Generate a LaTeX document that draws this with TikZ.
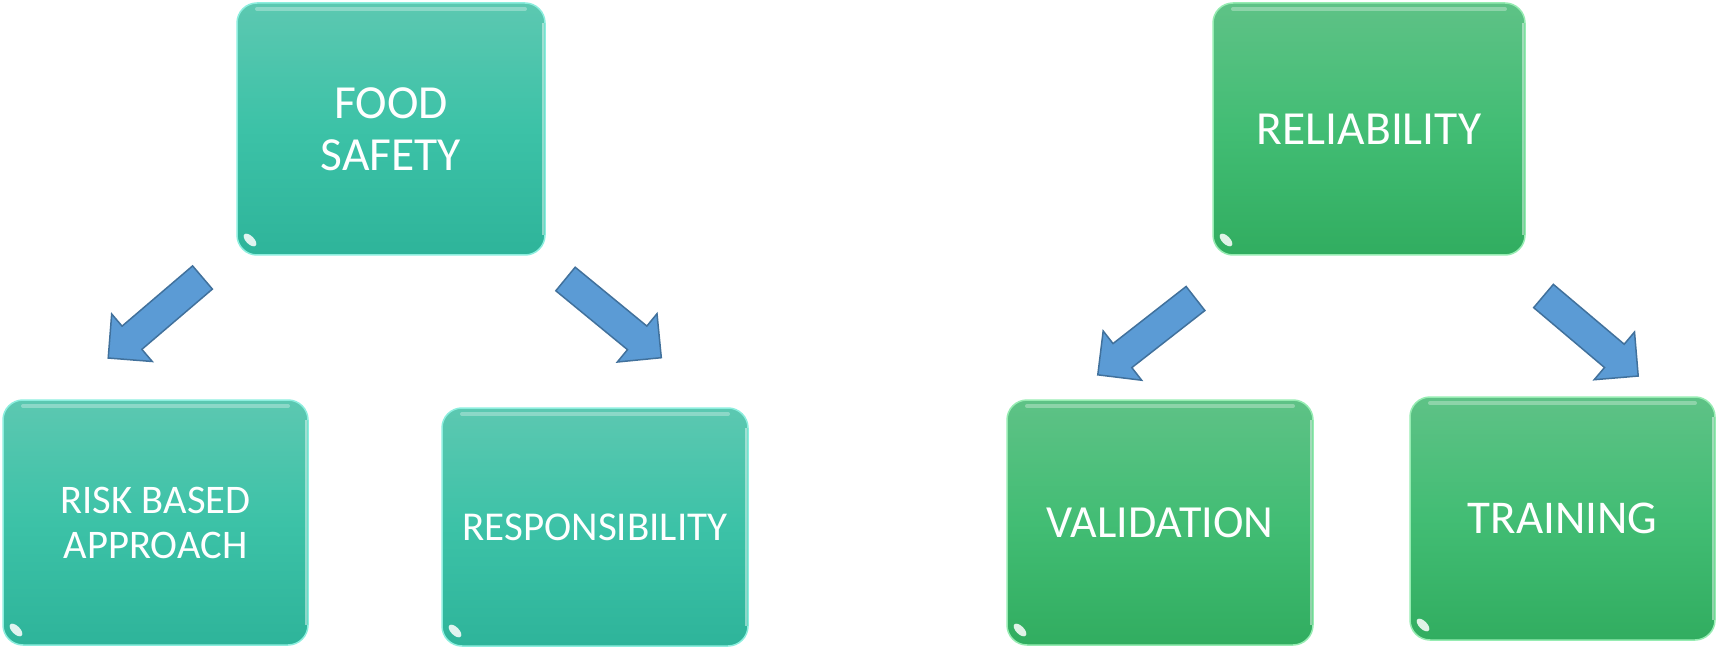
\documentclass[tikz,border=0pt]{standalone}
\usepackage{fontspec}
\setmainfont{Carlito}
\usetikzlibrary{shapes.arrows, positioning}

\definecolor{tealtop}{RGB}{92,200,177}
\definecolor{tealmid}{RGB}{60,194,167}
\definecolor{tealbot}{RGB}{46,180,154}
\definecolor{tealedge}{RGB}{140,238,222}
\definecolor{greentop}{RGB}{94,194,134}
\definecolor{greenmid}{RGB}{66,189,116}
\definecolor{greenbot}{RGB}{49,173,96}
\definecolor{greenedge}{RGB}{150,236,178}
\definecolor{arrowfill}{RGB}{91,155,213}
\definecolor{arrowline}{RGB}{65,113,156}

\begin{document}
\begin{tikzpicture}[x=1pt, y=-1pt,
  box/.style={rounded corners=20pt, text=white, align=center, inner sep=0pt, line width=1.5pt,
    path picture={
      \draw[white, opacity=.3, line width=4pt, line cap=round]
        ([shift={(20pt,-6pt)}]path picture bounding box.north west) -- ([shift={(-20pt,-6pt)}]path picture bounding box.north east);
      \draw[white, opacity=.45, line width=1.5pt]
        ([shift={(-2pt,-20pt)}]path picture bounding box.north east) -- ([shift={(-2pt,20pt)}]path picture bounding box.south east);
      \fill[white, opacity=.85]
        ([shift={(13pt,15pt)}]path picture bounding box.south west) ellipse [x radius=8pt, y radius=4pt, rotate=-45];
    }},
  tealbox/.style={box, draw=tealedge, top color=tealtop, bottom color=tealbot, middle color=tealmid},
  greenbox/.style={box, draw=greenedge, top color=greentop, bottom color=greenbot, middle color=greenmid},
  blockarrow/.style={single arrow, draw=arrowline, fill=arrowfill, line width=1.5pt, anchor=tail,
    outer sep=0pt, inner xsep=0pt, inner ysep=14.5pt, minimum height=124pt,
    single arrow head extend=16pt, single arrow tip angle=90}]

  \useasboundingbox (0,0) rectangle (1717,647);

  % left tree
  \node[tealbox, minimum width=308pt, minimum height=252pt, font=\fontsize{47.5pt}{52pt}\selectfont]
    (food) at (391,129) {FOOD\\SAFETY};
  \node[tealbox, minimum width=305pt, minimum height=245pt, font=\fontsize{40.6pt}{45pt}\selectfont]
    (risk) at (155.5,522.5) {RISK BASED\\APPROACH};
  \node[tealbox, minimum width=306pt, minimum height=238pt, font=\fontsize{41pt}{45pt}\selectfont]
    (resp) at (595,527) {RESPONSIBILITY};

  \node[blockarrow, rotate=220.5] (foodrisk) at (202.5,277.5) {};
  \node[blockarrow, rotate=-39.4] (foodresp) at (565.5,279) {};

  % right tree
  \node[greenbox, minimum width=312pt, minimum height=252pt, font=\fontsize{47.5pt}{52pt}\selectfont]
    (rel) at (1369,129) {RELIABILITY};
  \node[greenbox, minimum width=306pt, minimum height=245pt, font=\fontsize{46pt}{50pt}\selectfont]
    (val) at (1160,522.5) {VALIDATION};
  \node[greenbox, minimum width=305pt, minimum height=243pt, font=\fontsize{47pt}{50pt}\selectfont]
    (train) at (1562.5,518.5) {TRAINING};

  \node[blockarrow, rotate=218] (relval) at (1195.5,298.5) {};
  \node[blockarrow, rotate=-40.2] (reltrain) at (1543.5,296) {};
\end{tikzpicture}
\end{document}
